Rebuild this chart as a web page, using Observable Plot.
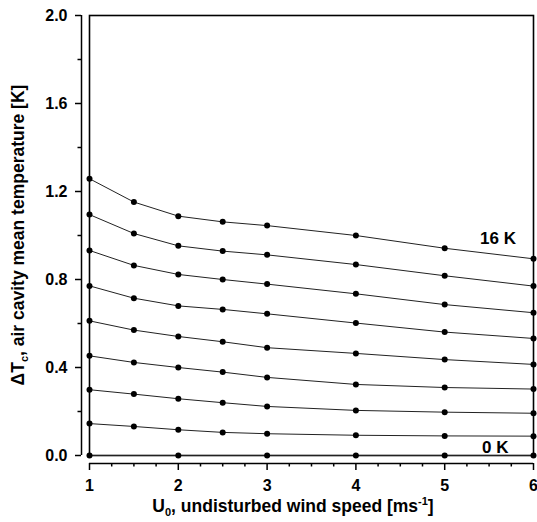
<!DOCTYPE html>
<html>
<head>
<meta charset="utf-8">
<script src="https://cdn.jsdelivr.net/npm/d3@7"></script>
<script src="https://cdn.jsdelivr.net/npm/@observablehq/plot@0.6"></script>
<style>
  html, body { margin: 0; padding: 0; background: white; }
  #chart svg { display: block; }
</style>
</head>
<body>
<div id="chart"></div>
<script>
// wind speeds (ms-1)
const u = [1, 1.5, 2, 2.5, 3, 4, 5, 6];
const uZero = [1, 2, 3, 4, 5, 6];

// ΔTc (K) for each temperature difference curve
const s0K  = [0, 0, 0, 0, 0, 0];
const s2K  = [0.145, 0.132, 0.117, 0.105, 0.099, 0.092, 0.089, 0.088];
const s4K  = [0.299, 0.279, 0.258, 0.240, 0.223, 0.205, 0.197, 0.192];
const s6K  = [0.453, 0.423, 0.400, 0.379, 0.355, 0.323, 0.309, 0.302];
const s8K  = [0.612, 0.570, 0.541, 0.517, 0.490, 0.464, 0.436, 0.414];
const s10K = [0.771, 0.715, 0.680, 0.664, 0.644, 0.602, 0.561, 0.532];
const s12K = [0.932, 0.864, 0.823, 0.800, 0.779, 0.735, 0.686, 0.649];
const s14K = [1.095, 1.009, 0.953, 0.929, 0.912, 0.868, 0.817, 0.770];
const s16K = [1.258, 1.152, 1.088, 1.062, 1.045, 1.000, 0.942, 0.894];

// tick labels
const xMajor = [1, 2, 3, 4, 5, 6];
const xMinor = [1.25, 1.5, 1.75, 2.25, 2.5, 2.75, 3.25, 3.5, 3.75, 4.25, 4.5, 4.75, 5.25, 5.5, 5.75];
const yMajor = [0, 0.4, 0.8, 1.2, 1.6, 2.0];
const yMinor = [0.2, 0.6, 1.0, 1.4, 1.8];

// curve labels
const labelText = ["16 K", "0 K"];
const labelU = [5.6, 5.57];
const labelT = [0.985, 0.037];

const seriesList = [
  ["0 K", uZero, s0K], ["2 K", u, s2K], ["4 K", u, s4K], ["6 K", u, s6K],
  ["8 K", u, s8K], ["10 K", u, s10K], ["12 K", u, s12K], ["14 K", u, s14K], ["16 K", u, s16K]
];
const data = seriesList.flatMap(([name, xs, ys]) => xs.map((x, i) => ({series: name, u: x, dT: ys[i]})));
const labels = labelText.map((t, i) => ({text: t, u: labelU[i], dT: labelT[i]}));

const plot = Plot.plot({
  width: 537,
  height: 522,
  marginLeft: 89,
  marginRight: 4,
  marginTop: 15,
  marginBottom: 67,
  x: {domain: [1, 6]},
  y: {domain: [0, 2]},
  style: {fontFamily: "'Liberation Sans', Arial, sans-serif", fontWeight: "bold", fontSize: "16px", color: "black", background: "white", overflow: "visible"},
  marks: [
    Plot.frame({stroke: "black", strokeWidth: 1.6}),
    Plot.ruleX([1], {y1: 0, y2: 2, dx: -8, stroke: "black", strokeWidth: 1.5}),
    Plot.axisY({ticks: yMajor, tickSize: 6, tickPadding: 8, dx: -8, tickFormat: d => d.toFixed(1), label: null, fontSize: 16, fontWeight: "bold", strokeWidth: 1.5}),
    Plot.axisY({ticks: yMinor, tickSize: 3.5, dx: -8, tickFormat: () => "", label: null, strokeWidth: 1.5}),
    Plot.ruleY([0], {x1: 1, x2: 6, dy: 8, stroke: "black", strokeWidth: 1.5}),
    Plot.axisX({ticks: xMajor, tickSize: 7, tickPadding: 9, dy: 8, tickFormat: d => String(d), label: null, fontSize: 16, fontWeight: "bold", strokeWidth: 1.5}),
    Plot.axisX({ticks: xMinor, tickSize: 3.5, dy: 8, tickFormat: () => "", label: null, strokeWidth: 1.5}),
    Plot.line(data, {x: "u", y: "dT", z: "series", stroke: "#222", strokeWidth: 1}),
    Plot.dot(data, {x: "u", y: "dT", r: 3, fill: "black", stroke: "none"}),
    Plot.text(labels, {x: "u", y: "dT", text: "text", fontSize: 17, fontWeight: "bold", fill: "black"})
  ]
});

const svg = d3.select(plot);
// x axis title
const xt = svg.append("text")
  .attr("x", 293).attr("y", 512)
  .attr("text-anchor", "middle")
  .attr("font-size", 17.5).attr("font-weight", "bold").attr("fill", "black");
xt.append("tspan").text("U");
xt.append("tspan").attr("font-size", 11).attr("dy", 4).text("0");
xt.append("tspan").attr("dy", -4).text(", undisturbed wind speed [ms");
xt.append("tspan").attr("font-size", 11).attr("dy", -7).text("-1");
xt.append("tspan").attr("dy", 7).text("]");

// y axis title
const yt = svg.append("text")
  .attr("transform", "translate(24,235) rotate(-90)")
  .attr("text-anchor", "middle")
  .attr("font-size", 17.5).attr("font-weight", "bold").attr("fill", "black");
yt.append("tspan").text("\u0394T");
yt.append("tspan").attr("font-size", 11).attr("dy", 4).text("c");
yt.append("tspan").attr("dy", -4).text(", air cavity mean temperature [K]");

document.getElementById("chart").appendChild(plot);
</script>
</body>
</html>
